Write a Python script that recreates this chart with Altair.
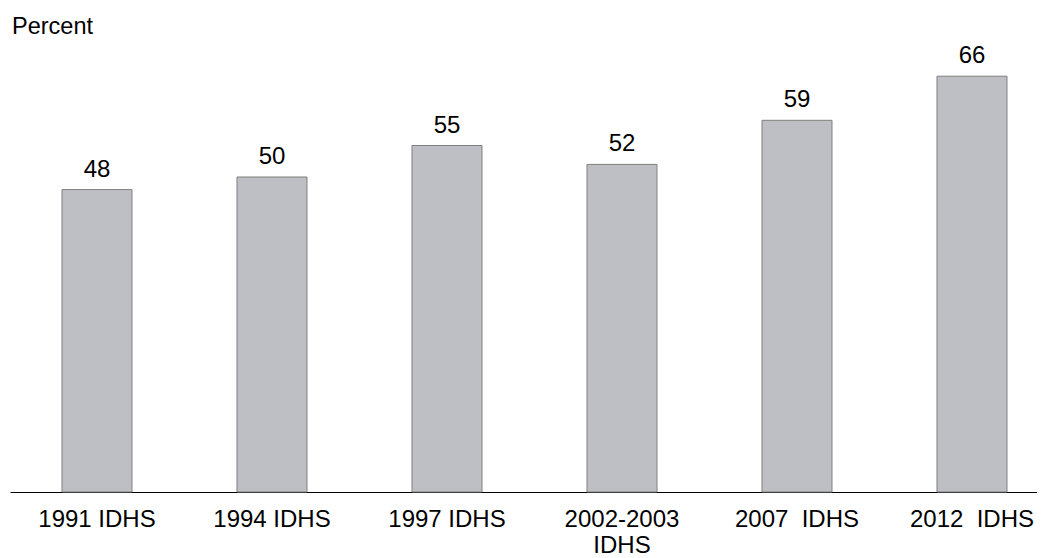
import altair as alt
import pandas as pd

categories = ["1991 IDHS", "1994 IDHS", "1997 IDHS", "2002-2003 IDHS", "2007\u00a0 IDHS", "2012\u00a0 IDHS"]
values = [48, 50, 55, 52, 59, 66]
y_title = ["Percent"]

df = pd.DataFrame({"survey": categories, "pct": values})
FONT = "Liberation Sans"

xscale = alt.Scale(paddingInner=0.6, paddingOuter=0.2343, align=0.634)
yscale = alt.Scale(domain=[0, 70], nice=False)

base = alt.Chart(df).encode(
    x=alt.X("survey:N", sort=categories, scale=xscale, title=None,
            axis=alt.Axis(labelAngle=0, labelFontSize=24, labelFont=FONT,
                          labelColor="#000000", ticks=False, tickSize=0,
                          labelPadding=15, labelLineHeight=26,
                          domainColor="#000000", domainWidth=1,
                          labelExpr="datum.label == '2002-2003 IDHS' ? ['2002-2003', 'IDHS'] : datum.label")),
    y=alt.Y("pct:Q", scale=yscale, axis=None),
)

bars = base.mark_bar(color="#BEBFC4", stroke="#7F7F7F", strokeWidth=1)
labels = base.mark_text(baseline="alphabetic", dy=-13, fontSize=24, font=FONT,
                        color="#000000").encode(text="pct:Q")

title = alt.Chart(pd.DataFrame({"t": y_title})).mark_text(
    align="left", baseline="alphabetic", fontSize=23.5, font=FONT, color="#000000"
).encode(x=alt.value(2), y=alt.value(-17), text="t:N")

chart = alt.layer(bars, labels, title).properties(
    width=1027, height=441,
    autosize=alt.AutoSizeParams(type="none"),
    padding={"left": 2, "top": 43, "right": 0, "bottom": 64},
).configure_view(stroke=None).configure_axis(grid=False)

chart.save("out.html", embed_options={"renderer": "svg", "actions": False})
